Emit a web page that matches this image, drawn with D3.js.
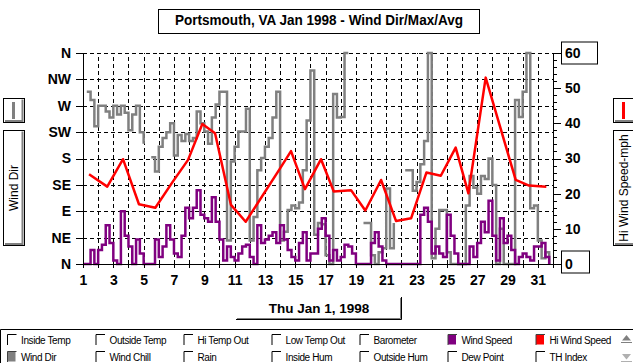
<!DOCTYPE html>
<html>
<head>
<meta charset="utf-8">
<script src="https://cdnjs.cloudflare.com/ajax/libs/d3/7.8.5/d3.min.js"></script>
<style>
    body { margin: 0; background: #fff; }
    svg { display: block; font-family: "Liberation Sans", Arial, sans-serif; }
    .grid line { stroke: #000; stroke-dasharray: 4,3; shape-rendering: crispEdges; }
    .grid .domain { display: none; }
    .axis path, .axis line { stroke: #000; shape-rendering: crispEdges; }
    .axis text { font-size: 14px; font-weight: bold; fill: #000; }
    .legend text { font-size: 10px; letter-spacing: -0.4px; fill: #000; }
</style>
</head>
<body>
<svg class="chart" width="633" height="363"></svg>
<script>
//chart data
var chartTitle = "Portsmouth, VA Jan 1998 - Wind Dir/Max/Avg";
var dateLabel = "Thu Jan 1, 1998";
var dirTickLabels = ["N", "NE", "E", "SE", "S", "SW", "W", "NW", "N"];
var dirTickValues = [0, 45, 90, 135, 180, 225, 270, 315, 360];
var speedTickValues = [0, 10, 20, 30, 40, 50, 60];
var dayTickValues = [1, 3, 5, 7, 9, 11, 13, 15, 17, 19, 21, 23, 25, 27, 29, 31];
var sampleStep = 0.25; //days between wind samples, first sample on Jan 1

//wind direction in degrees (null = no reading)
var windDir = [
    null, 294, 280, 235, 270, 270, 260, 250, 270, 255, 270, 258, 228, 255, 270, 225,
    205, null, 182, 158, 200, 215, 225, 240, 185, 220, 210, 222, 210, 215, 260, 240,
    226, 205, 250, 272, 294, 294, 40, 175, 200, 226, 226, 265, 40, 80, 160, 181,
    200, 215, 250, 294, 40, 55, 92, 100, 95, 105, 160, 245, 330, 50, 70, 68,
    15, 0, 290, 250, 251, 360, 360, null, null, null, 70, 70, 15, 0, 20, 27,
    129, 27, 70, null, null, 160, 160, 125, 140, 170, 210, 360, 10, 60, 92, 92,
    20, 0, 0, 0, 0, 100, 150, 130, 120, 150, 145, 180, 135, 0, 60, 0,
    0, 0, 280, 251, 294, 360, 95, 100, 40, 10, 20, 0
];

//average wind speed, mph
var windSpeed = [
    0, 0, 4, 0, 4, 5.5, 11, 6, 1, 0, 15, 8, 5, 0, 7, 3,
    0, 0, 0, 7, 2, 5, 11, 7, 3, 2, 8, 16, 13, 16, 21, 14,
    13, 12, 19, 12, 7, 1, 5, 2, 1, 3, 5, 5.5, 2, 0, 11, 6,
    7, 8, 9, 6, 11, 7, 4, 2, 1, 6, 9, 1, 3, 3, 10, 13,
    8, 1, 4, 1, 2, 5.5, 5, 3, 0, 0, 0, 0, 6, 9, 5, 1,
    0, 0, 0, 0, 0, 0, 0, 0, 0, 14, 16, 12, 3, 5, 3, 2,
    14, 8, 3, 0, 0, 0, 5, 2, 6, 12, 9, 18, 8, 1, 13, 6,
    8, 4, 0, 2, 3, 2, 1, 5, 5, 6, 2, 0
];

//daily high wind speed: day of month, mph
var hiWindDay = [1.4, 2.6, 3.64, 4.69, 5.77, 6.89, 7.93, 8.87, 9.71, 10.76, 11.73, 14.0, 14.72, 15.64, 16.7,
    17.54, 18.68, 19.62, 20.66, 21.65, 22.64, 23.65, 24.6, 25.58, 26.42, 27.56, 29.54, 30.42, 31.56];
var hiWindMph = [25.5, 22.0, 29.8, 17.0, 16.0, 23.2, 29.6, 39.8, 37.2, 16.8, 12.0, 27.2, 32.1, 21.3, 29.8,
    20.6, 21.0, 15.2, 23.9, 12.2, 13.0, 26.0, 25.1, 33.1, 20.1, 53.0, 23.9, 22.3, 22.0];

//legend entries
var legendRow1 = ["Inside Temp", "Outside Temp", "Hi Temp Out", "Low Temp Out", "Barometer", "Wind Speed", "Hi Wind Speed"];
var legendRow2 = ["Wind Dir", "Wind Chill", "Rain", "Inside Hum", "Outside Hum", "Dew Point", "TH Index"];
var seriesColors = {"Wind Dir": "#808080", "Wind Speed": "#800080", "Hi Wind Speed": "#ff0000"};

//svg chart variables
var margin = {top: 53, left: 83};
var width = 470;
var height = 211;
var plotBottom = margin.top + height;
var plotRight = margin.left + width;

var chart = d3.select(".chart");

//scales
var x = d3.scaleLinear().domain([1, 32]).range([margin.left, plotRight]);
var yDir = d3.scaleLinear().domain([0, 360]).range([plotBottom, margin.top]);
var ySpd = d3.scaleLinear().domain([0, 60]).range([plotBottom, margin.top]);

//title box
chart.append("rect")
    .attr("x", 158.5).attr("y", 9.5).attr("width", 321).attr("height", 24)
    .style("fill", "#fff").style("stroke", "#000");
chart.append("text")
    .attr("x", 319).attr("y", 25)
    .attr("text-anchor", "middle")
    .style("font-size", "14px").style("font-weight", "bold")
    .attr("textLength", 288).attr("lengthAdjust", "spacingAndGlyphs")
    .text(chartTitle);

//vertical gridlines (one per day)
chart.append("g")
    .attr("class", "grid")
    .attr("transform", "translate(0," + plotBottom + ")")
    .call(d3.axisBottom(x)
        .tickValues(d3.range(2, 32))
        .tickSize(-height)
        .tickFormat("")
    );

//horizontal gridlines (compass points)
chart.append("g")
    .attr("class", "grid")
    .attr("transform", "translate(" + margin.left + ",0)")
    .call(d3.axisLeft(yDir)
        .tickValues(dirTickValues.slice(1))
        .tickSize(-width)
        .tickFormat("")
    );

//wind direction line
var dirData = windDir.map(function (v, i) { return {day: 1 + i * sampleStep, v: v}; });
var dirLine = d3.line()
    .defined(function (d) { return d.v !== null; })
    .curve(d3.curveStepAfter)
    .x(function (d) { return x(d.day); })
    .y(function (d) { return yDir(d.v); });
chart.append("path")
    .datum(dirData)
    .attr("d", dirLine)
    .style("fill", "none").style("stroke", seriesColors["Wind Dir"]).style("stroke-width", 2.5);

//wind speed line
var spdData = windSpeed.map(function (v, i) { return {day: 1 + i * sampleStep, v: v}; });
var spdLine = d3.line()
    .curve(d3.curveStepAfter)
    .x(function (d) { return x(d.day); })
    .y(function (d) { return ySpd(d.v); });
chart.append("path")
    .datum(spdData)
    .attr("d", spdLine)
    .style("fill", "none").style("stroke", seriesColors["Wind Speed"]).style("stroke-width", 2.5);

//hi wind speed line
var hiData = hiWindDay.map(function (d, i) { return {day: d, v: hiWindMph[i]}; });
var hiLine = d3.line()
    .x(function (d) { return x(d.day); })
    .y(function (d) { return ySpd(d.v); });
chart.append("path")
    .datum(hiData)
    .attr("d", hiLine)
    .style("fill", "none").style("stroke", seriesColors["Hi Wind Speed"]).style("stroke-width", 2.5)
    .style("stroke-linejoin", "round");

//axes
chart.append("g")
    .attr("class", "axis")
    .attr("transform", "translate(" + margin.left + ",0)")
    .call(d3.axisLeft(yDir)
        .tickValues(dirTickValues)
        .tickSize(7).tickSizeOuter(0).tickPadding(5)
        .tickFormat(function (d, i) { return dirTickLabels[i]; })
    );
chart.append("g")
    .attr("class", "axis")
    .attr("transform", "translate(0," + plotBottom + ")")
    .call(d3.axisBottom(x)
        .tickValues(d3.range(1, 33))
        .tickSize(4).tickSizeOuter(0)
        .tickFormat("")
    );
chart.append("g")
    .attr("class", "axis")
    .attr("transform", "translate(0," + plotBottom + ")")
    .call(d3.axisBottom(x)
        .tickValues(dayTickValues)
        .tickSize(4).tickSizeOuter(0).tickPadding(7)
    )
    .select(".domain").remove();

//right axis, minor ticks every 2 mph
chart.append("g")
    .attr("class", "axis")
    .attr("transform", "translate(" + plotRight + ",0)")
    .call(d3.axisRight(ySpd)
        .tickValues(d3.range(0, 61, 2).filter(function (d) { return d % 10 !== 0; }))
        .tickSize(4).tickSizeOuter(0)
        .tickFormat("")
    );
var rightAxis = chart.append("g")
    .attr("class", "axis")
    .attr("transform", "translate(" + plotRight + ",0)")
    .call(d3.axisRight(ySpd)
        .tickValues(speedTickValues)
        .tickSize(8).tickSizeOuter(0).tickPadding(4)
    );

//boxes round the end labels of right axis
rightAxis.selectAll(".tick")
    .filter(function (d) { return d === 0 || d === 60; })
    .insert("rect", "text")
    .attr("x", 8.5)
    .attr("y", function (d) { return d === 60 ? -11.5 : -13.5; })
    .attr("width", function (d) { return d === 60 ? 36 : 28; })
    .attr("height", 22)
    .style("fill", "#fff").style("stroke", "#000");

//date box
chart.append("text")
    .attr("x", 319).attr("y", 313)
    .attr("text-anchor", "middle")
    .style("font-size", "13.5px").style("font-weight", "bold")
    .text(dateLabel);
chart.append("path")
    .attr("d", "M236,319.5H401.5V297")
    .style("fill", "none").style("stroke", "#000");
chart.append("path")
    .attr("d", "M237,318.5H400.5V298")
    .style("fill", "none").style("stroke", "#808080");

//side boxes: series swatch and axis title
function sideBox (bx, bw, color, title) {
    var g = chart.append("g");
    [[98.5, 24], [130.5, 115]].forEach(function (b) {
        g.append("rect")
            .attr("x", bx + 0.5).attr("y", b[0]).attr("width", bw).attr("height", b[1])
            .style("fill", "#fff").style("stroke", "#000");
        g.append("path")
            .attr("d", "M" + (bx + bw - 1.5) + "," + (b[0] + 1) + "V" + (b[0] + b[1] - 1.5) + "H" + (bx + 2))
            .style("fill", "none").style("stroke", "#808080").style("stroke-width", 2);
    });
    g.append("line")
        .attr("x1", bx + 10.5).attr("x2", bx + 10.5)
        .attr("y1", 102).attr("y2", 119)
        .style("stroke", color).style("stroke-width", 3);
    g.append("text")
        .attr("transform", "translate(" + (bx + 15) + ",188)rotate(-90)")
        .attr("text-anchor", "middle")
        .style("font-size", "12px")
        .text(title);
}
sideBox(3, 21, seriesColors["Wind Dir"], "Wind Dir");
sideBox(613, 24, seriesColors["Hi Wind Speed"], "Hi Wind Speed-mph");

//legend panel
var legend = chart.append("g").attr("class", "legend");
legend.append("path")
    .attr("d", "M0.5,363V329.5H633")
    .style("fill", "none").style("stroke", "#000");
var legendCols = [7.5, 96, 184, 272, 360, 448, 536];
[[legendRow1, 334.5, 344], [legendRow2, 351.5, 361]].forEach(function (row) {
    row[0].forEach(function (name, i) {
        var cx = legendCols[i];
        var color = seriesColors[name];
        if (color) {
            legend.append("rect")
                .attr("x", cx).attr("y", row[1]).attr("width", 8).attr("height", 10)
                .style("fill", color);
        }
        legend.append("path")
            .attr("d", "M" + cx + "," + (row[1] + 10.5) + "V" + row[1] + "H" + (cx + 9))
            .style("fill", "none").style("stroke", color ? "#404040" : "#000");
        legend.append("text")
            .attr("x", cx + 13.5).attr("y", row[2])
            .text(name);
    });
});

//scroll arrows
legend.append("path").attr("d", "M626.5,335L622,340.5H631Z").style("fill", "#808080");
legend.append("line").attr("x1", 621).attr("x2", 632).attr("y1", 342.5).attr("y2", 342.5).style("stroke", "#808080");
legend.append("path").attr("d", "M622,354H631L626.5,359.5Z").style("fill", "#b0b0b0");
legend.append("line").attr("x1", 621).attr("x2", 632).attr("y1", 361.5).attr("y2", 361.5).style("stroke", "#b0b0b0");
</script>
</body>
</html>
